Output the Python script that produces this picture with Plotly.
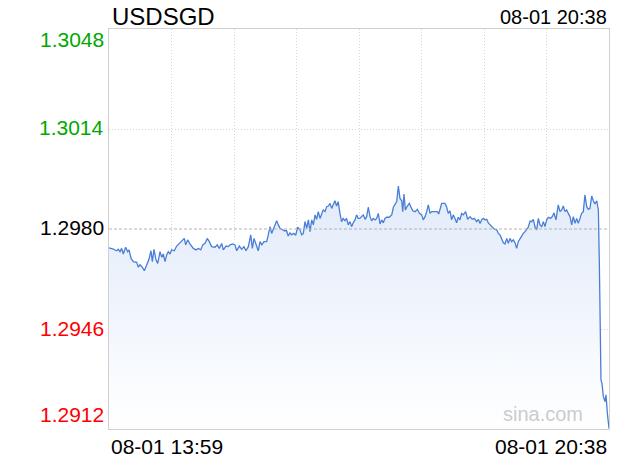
import pandas as pd
import plotly.graph_objects as go

# ---------------- data ----------------
symbol = "USDSGD"
start_label = "08-01 13:59"
end_label = "08-01 20:38"
start_time = "2024-08-01 13:59"
end_time = "2024-08-01 20:38"
prev_close = 1.2980
y_labels = [1.3048, 1.3014, 1.2980, 1.2946, 1.2912]

minutes = [
    0.0, 3.4, 6.1, 7.4, 8.8, 10.1, 11.4, 13.3, 14.9, 16.0, 17.6, 19.4, 22.1, 23.4, 24.7, 26.6, 28.2, 30.1,
    31.9, 33.5, 34.6, 35.9, 37.5, 38.9, 40.7, 42.1, 43.3, 44.7, 46.0, 47.3, 48.7, 50.0, 52.1, 54.0, 56.7,
    58.5, 60.1, 61.2, 62.8, 64.6, 67.3, 69.4, 71.3, 73.2, 74.8, 76.6, 78.4, 80.0, 81.9, 84.6, 86.4, 88.0,
    89.9, 91.2, 93.4, 95.2, 96.6, 98.7, 100.5, 101.9, 104.0, 105.9, 107.7, 109.3, 111.2, 113.1, 114.4,
    115.7, 117.3, 119.1, 120.5, 121.9, 123.7, 125.8, 127.1, 128.5, 129.8, 131.1, 132.5, 133.8, 135.1,
    136.5, 137.8, 139.9, 141.7, 143.0, 144.4, 145.8, 147.1, 149.0, 150.6, 152.4, 153.8, 155.1, 156.4,
    157.8, 159.1, 160.4, 161.8, 163.1, 164.4, 165.7, 167.0, 168.4, 169.7, 171.0, 172.4, 173.7, 175.0,
    176.4, 177.7, 179.0, 180.3, 181.6, 182.9, 184.3, 185.6, 186.9, 188.3, 189.6, 190.9, 192.3, 193.6,
    194.9, 196.3, 197.6, 198.9, 200.3, 201.6, 202.9, 204.3, 205.6, 206.9, 208.3, 209.6, 210.9, 212.3,
    213.6, 214.9, 216.3, 217.6, 218.9, 220.2, 221.5, 223.6, 225.6, 226.9, 228.2, 229.6, 230.9, 232.2,
    233.6, 234.4, 235.4, 236.5, 238.1, 239.7, 240.8, 242.4, 244.2, 246.1, 247.7, 249.5, 250.8, 252.2,
    253.5, 254.8, 256.2, 257.5, 260.1, 262.0, 263.1, 264.1, 265.5, 268.1, 269.4, 270.7, 272.1, 273.4,
    274.7, 276.1, 277.4, 278.7, 280.1, 281.4, 282.7, 284.6, 286.2, 288.1, 289.9, 291.5, 293.4, 294.7,
    296.1, 297.4, 298.7, 300.0, 301.4, 302.7, 305.4, 307.5, 309.4, 310.7, 312.0, 313.4, 314.7, 316.0,
    317.4, 318.7, 320.0, 321.3, 322.6, 324.0, 325.3, 326.6, 328.0, 329.3, 330.6, 332.0, 333.3, 334.6,
    336.0, 337.3, 338.6, 339.9, 341.3, 342.6, 343.9, 345.3, 346.6, 347.9, 349.3, 350.6, 352.4, 354.0,
    355.1, 356.7, 358.5, 359.9, 361.3, 362.5, 363.9, 365.2, 366.5, 367.9, 369.2, 370.5, 371.9, 373.2,
    374.5, 375.9, 377.2, 378.5, 379.8, 381.2, 382.5, 383.8, 385.2, 386.5, 387.8, 389.2, 390.0, 390.5,
    391.3, 391.8, 392.6, 393.4, 394.5, 395.8, 396.6, 397.7, 398.5, 399.0,
]

prices = [
    1.29736, 1.29732, 1.29726, 1.29731, 1.29723, 1.29734, 1.29715, 1.29738, 1.29723, 1.29729, 1.29700,
    1.29689, 1.29687, 1.29670, 1.29678, 1.29670, 1.29658, 1.29678, 1.29697, 1.29726, 1.29689, 1.29731,
    1.29695, 1.29683, 1.29723, 1.29704, 1.29715, 1.29689, 1.29712, 1.29723, 1.29715, 1.29729, 1.29726,
    1.29742, 1.29753, 1.29760, 1.29768, 1.29746, 1.29763, 1.29749, 1.29734, 1.29729, 1.29734, 1.29729,
    1.29746, 1.29751, 1.29768, 1.29757, 1.29740, 1.29738, 1.29746, 1.29734, 1.29751, 1.29729, 1.29742,
    1.29740, 1.29746, 1.29749, 1.29746, 1.29726, 1.29742, 1.29731, 1.29740, 1.29726, 1.29740, 1.29780,
    1.29734, 1.29768, 1.29746, 1.29726, 1.29757, 1.29746, 1.29757, 1.29757, 1.29780, 1.29808, 1.29785,
    1.29799, 1.29814, 1.29828, 1.29814, 1.29802, 1.29799, 1.29794, 1.29794, 1.29776, 1.29787, 1.29780,
    1.29785, 1.29780, 1.29806, 1.29797, 1.29780, 1.29785, 1.29825, 1.29802, 1.29831, 1.29791, 1.29831,
    1.29814, 1.29848, 1.29833, 1.29859, 1.29836, 1.29851, 1.29865, 1.29859, 1.29876, 1.29878, 1.29887,
    1.29870, 1.29887, 1.29896, 1.29878, 1.29893, 1.29853, 1.29825, 1.29836, 1.29828, 1.29836, 1.29814,
    1.29825, 1.29808, 1.29821, 1.29831, 1.29848, 1.29836, 1.29837, 1.29842, 1.29848, 1.29833, 1.29842,
    1.29874, 1.29842, 1.29828, 1.29836, 1.29831, 1.29836, 1.29853, 1.29817, 1.29831, 1.29821, 1.29836,
    1.29840, 1.29840, 1.29848, 1.29874, 1.29882, 1.29893, 1.29946, 1.29904, 1.29896, 1.29859, 1.29919,
    1.29865, 1.29878, 1.29887, 1.29876, 1.29862, 1.29859, 1.29867, 1.29853, 1.29848, 1.29831, 1.29842,
    1.29859, 1.29882, 1.29853, 1.29859, 1.29859, 1.29859, 1.29851, 1.29865, 1.29887, 1.29887, 1.29876,
    1.29853, 1.29862, 1.29831, 1.29848, 1.29836, 1.29821, 1.29840, 1.29831, 1.29853, 1.29848, 1.29859,
    1.29833, 1.29842, 1.29833, 1.29836, 1.29825, 1.29833, 1.29819, 1.29831, 1.29836, 1.29831, 1.29833,
    1.29821, 1.29810, 1.29799, 1.29797, 1.29785, 1.29780, 1.29768, 1.29753, 1.29749, 1.29768, 1.29751,
    1.29768, 1.29757, 1.29763, 1.29753, 1.29734, 1.29757, 1.29768, 1.29780, 1.29785, 1.29791, 1.29799,
    1.29806, 1.29827, 1.29825, 1.29833, 1.29808, 1.29797, 1.29836, 1.29814, 1.29808, 1.29825, 1.29808,
    1.29831, 1.29840, 1.29836, 1.29844, 1.29855, 1.29831, 1.29882, 1.29859, 1.29865, 1.29878, 1.29859,
    1.29865, 1.29853, 1.29842, 1.29814, 1.29842, 1.29819, 1.29836, 1.29819, 1.29836, 1.29853, 1.29859,
    1.29916, 1.29876, 1.29867, 1.29870, 1.29912, 1.29896, 1.29885, 1.29896, 1.29870, 1.29865, 1.29684,
    1.29513, 1.29287, 1.29275, 1.29230, 1.29213, 1.29236, 1.29173, 1.29151, 1.29122,
]

# ---------------- figure ----------------
t0 = pd.Timestamp(start_time)
t1 = pd.Timestamp(end_time)
times = [t0 + pd.Timedelta(minutes=m) for m in minutes]
grid_times = [t0 + (t1 - t0) * k / 8 for k in range(1, 8)]

FONT = "Liberation Sans, Arial, Helvetica, sans-serif"

fig = go.Figure()
fig.add_trace(go.Scatter(
    x=times, y=prices, mode="lines",
    line=dict(color="#4a7ed6", width=1.3),
    fill="tozeroy",
    fillgradient=dict(type="vertical",
                      colorscale=[[0, "#ffffff"], [1, "#e3ecfa"]],
                      start=y_labels[-1], stop=1.2990),
    hoverinfo="skip",
))

fig.add_hline(y=prev_close, line=dict(color="#b4b4b4", width=1, dash="3px,2px"))

fig.update_layout(
    width=620, height=460,
    margin=dict(l=109, r=11, t=29, b=31),
    paper_bgcolor="white", plot_bgcolor="white",
    showlegend=False,
    font=dict(family=FONT, color="#000"),
    xaxis=dict(
        type="date", range=[t0, t1],
        tickvals=grid_times, showticklabels=False, ticks="",
        showgrid=True, gridcolor="#d6d6d6", griddash="1px,2px", gridwidth=1,
        showline=True, linecolor="#d0d0d0", linewidth=1, mirror=True,
        zeroline=False, fixedrange=True,
    ),
    yaxis=dict(
        range=[y_labels[-1], y_labels[0]],
        tickvals=[y_labels[1], y_labels[3]], showticklabels=False, ticks="",
        showgrid=True, gridcolor="#d6d6d6", griddash="1px,2px", gridwidth=1,
        showline=True, linecolor="#d0d0d0", linewidth=1, mirror=True,
        zeroline=False, fixedrange=True,
    ),
)

# y labels coloured against previous close
shifts = [-10.4, 1.5, 1.5, 1.0, 14.2]
for v, s in zip(y_labels, shifts):
    col = "#00a800" if v > prev_close else ("#ff0000" if v < prev_close else "#000000")
    fig.add_annotation(xref="paper", x=0, yref="y", y=v, text=f"{v:.4f}",
                       showarrow=False, xanchor="right", yanchor="middle",
                       xshift=-3, yshift=s, font=dict(size=21, color=col, family=FONT))

fig.add_annotation(xref="paper", x=0, yref="paper", y=1, text=symbol, showarrow=False,
                   xanchor="left", yanchor="middle", xshift=1, yshift=13,
                   font=dict(size=24, color="#000", family=FONT))
fig.add_annotation(xref="paper", x=1, yref="paper", y=1, text=end_label, showarrow=False,
                   xanchor="right", yanchor="middle", xshift=0, yshift=12,
                   font=dict(size=20, color="#000", family=FONT))
fig.add_annotation(xref="paper", x=0, yref="paper", y=0, text=start_label, showarrow=False,
                   xanchor="left", yanchor="middle", xshift=0, yshift=-17.7,
                   font=dict(size=21, color="#000", family=FONT))
fig.add_annotation(xref="paper", x=1, yref="paper", y=0, text=end_label, showarrow=False,
                   xanchor="right", yanchor="middle", xshift=0, yshift=-17.7,
                   font=dict(size=21, color="#000", family=FONT))
fig.add_annotation(xref="paper", x=1, yref="paper", y=0, text="sina.com", showarrow=False,
                   xanchor="right", yanchor="middle", xshift=-24, yshift=15,
                   font=dict(size=20, color="#cccccc", family=FONT))

fig.write_html("out.html", config={"displayModeBar": False},
               post_script="document.body.style.margin='0';document.body.style.padding='0';")
